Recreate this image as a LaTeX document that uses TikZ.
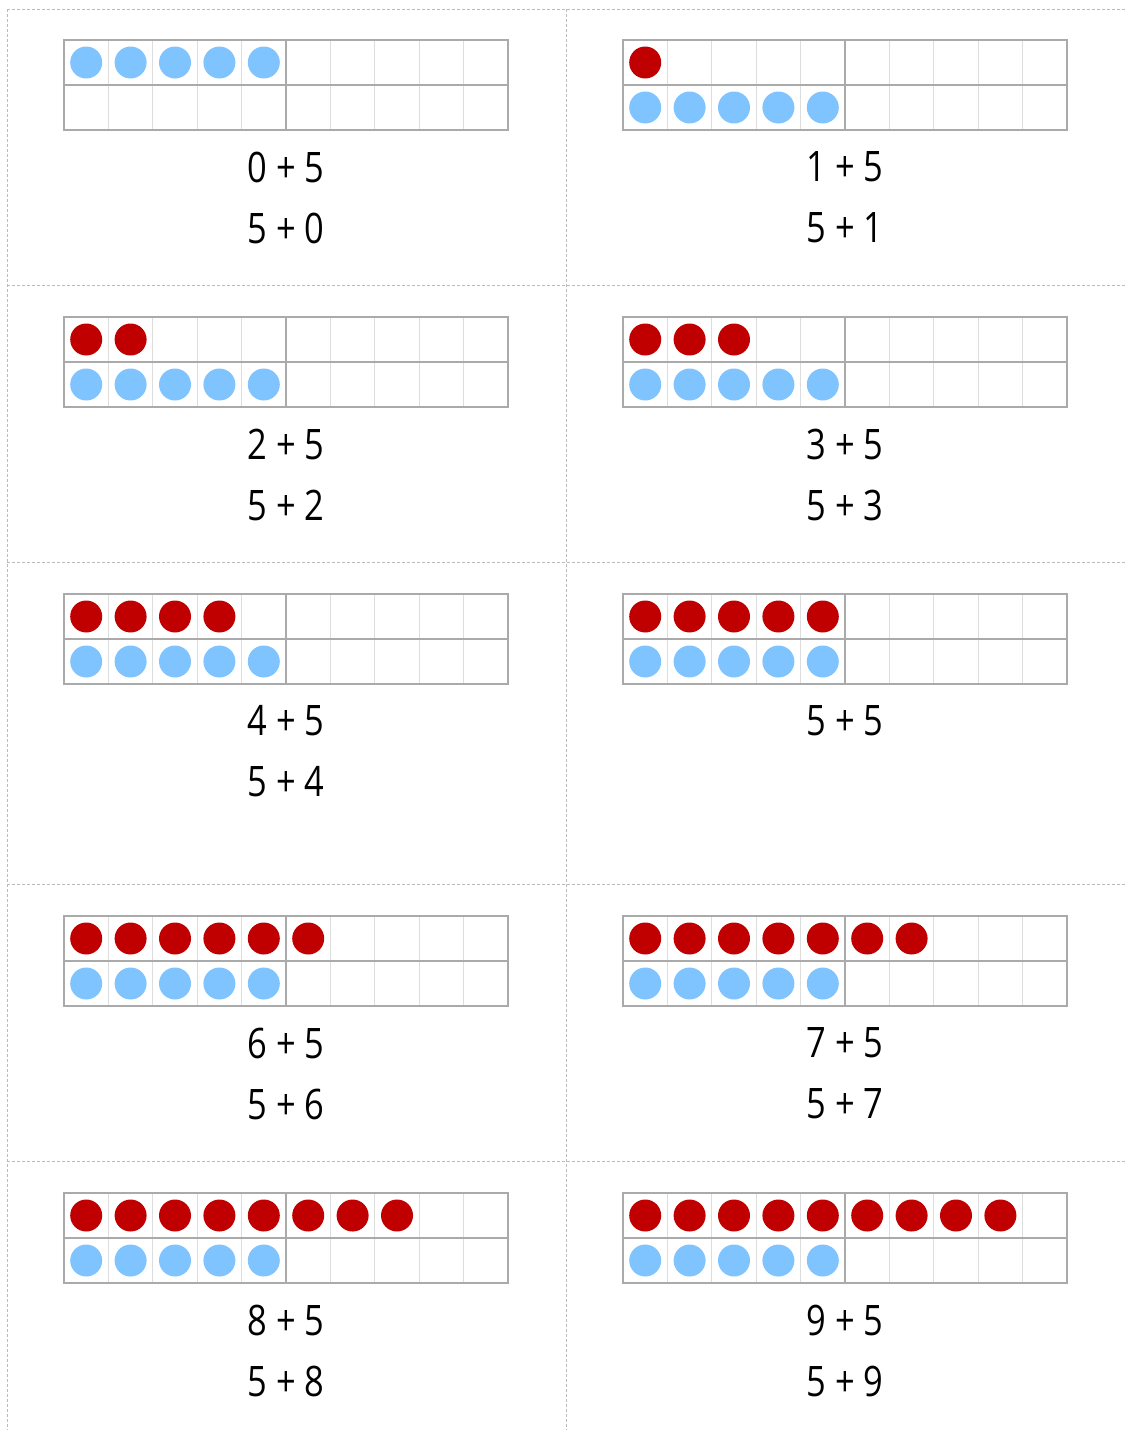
\documentclass[tikz,border=0pt]{standalone}
\usepackage{fontspec}
\setmainfont{Open Sans}
\newfontfamily\sumfont{Open Sans}[FakeStretch=0.82]
\definecolor{dotblue}{HTML}{80C4FF}
\definecolor{dotred}{HTML}{C00000}
\definecolor{framegray}{HTML}{AAAAAA}
\definecolor{cellgray}{HTML}{DDDDDD}
\definecolor{cutgray}{HTML}{BBBBBB}
\tikzset{
  cutline/.style={draw=cutgray, line width=1pt, dash pattern=on 3pt off 2pt},
  cellline/.style={draw=cellgray, line width=1.3pt},
  framebox/.style={draw=framegray, line width=2pt},
  reddot/.style={fill=dotred},
  bluedot/.style={fill=dotblue},
  sumtext/.style={font=\sumfont\fontsize{42}{50}\selectfont, inner sep=0pt, anchor=center}
}
% #1 x, #2 y of the frame's top left corner
\newcommand\tenframegrid[2]{%
  \foreach \i in {1,2,3,4,6,7,8,9}{\draw[cellline] (#1+\i*44.4,#2) -- (#1+\i*44.4,#2+90);}
  \draw[framebox] (#1,#2) rectangle (#1+444,#2+90);
  \draw[framebox] (#1,#2+45) -- (#1+444,#2+45);
  \draw[framebox] (#1+222,#2) -- (#1+222,#2+90);
}
% #1 x, #2 y, #3 number of red dots (>=1): red on top row, five blue below
\newcommand\tenframefull[3]{%
  \tenframegrid{#1}{#2}
  \foreach \i in {1,...,#3}{\fill[reddot] (#1+\i*44.4-22.2,#2+22.5) circle (16);}
  \foreach \i in {1,...,5}{\fill[bluedot] (#1+\i*44.4-22.2,#2+67.5) circle (16);}
}
\begin{document}
\begin{tikzpicture}[x=1pt,y=-1pt]
\useasboundingbox (0,0) rectangle (1125,1430);
\fill[white] (0,0) rectangle (1125,1430);
% cutting lines
\draw[cutline] (7,9) -- (1125,9);
\draw[cutline] (7,285) -- (1125,285);
\draw[cutline] (7,562) -- (1125,562);
\draw[cutline] (7,884) -- (1125,884);
\draw[cutline] (7,1161) -- (1125,1161);
\draw[cutline] (7,9) -- (7,1430);
\draw[cutline] (566,9) -- (566,1430);
% card 0 + 5
\tenframegrid{64}{40}
\foreach \i in {1,...,5}{\fill[bluedot] (64+\i*44.4-22.2,62.5) circle (16);}
\node[sumtext] (s0a) at (286,167) {0 + 5};
\node[sumtext] (s0b) at (286,228) {5 + 0};
% card 1 + 5
\tenframefull{623}{40}{1}
\node[sumtext] (s1a) at (845,167) {1 + 5};
\node[sumtext] (s1b) at (845,228) {5 + 1};
% card 2 + 5
\tenframefull{64}{317}{2}
\node[sumtext] (s2a) at (286,444) {2 + 5};
\node[sumtext] (s2b) at (286,505) {5 + 2};
% card 3 + 5
\tenframefull{623}{317}{3}
\node[sumtext] (s3a) at (845,444) {3 + 5};
\node[sumtext] (s3b) at (845,505) {5 + 3};
% card 4 + 5
\tenframefull{64}{594}{4}
\node[sumtext] (s4a) at (286,721) {4 + 5};
\node[sumtext] (s4b) at (286,782) {5 + 4};
% card 5 + 5
\tenframefull{623}{594}{5}
\node[sumtext] (s5a) at (845,721) {5 + 5};
% card 6 + 5
\tenframefull{64}{916}{6}
\node[sumtext] (s6a) at (286,1043) {6 + 5};
\node[sumtext] (s6b) at (286,1104) {5 + 6};
% card 7 + 5
\tenframefull{623}{916}{7}
\node[sumtext] (s7a) at (845,1043) {7 + 5};
\node[sumtext] (s7b) at (845,1104) {5 + 7};
% card 8 + 5
\tenframefull{64}{1193}{8}
\node[sumtext] (s8a) at (286,1320) {8 + 5};
\node[sumtext] (s8b) at (286,1381) {5 + 8};
% card 9 + 5
\tenframefull{623}{1193}{9}
\node[sumtext] (s9a) at (845,1320) {9 + 5};
\node[sumtext] (s9b) at (845,1381) {5 + 9};
\end{tikzpicture}
\end{document}
